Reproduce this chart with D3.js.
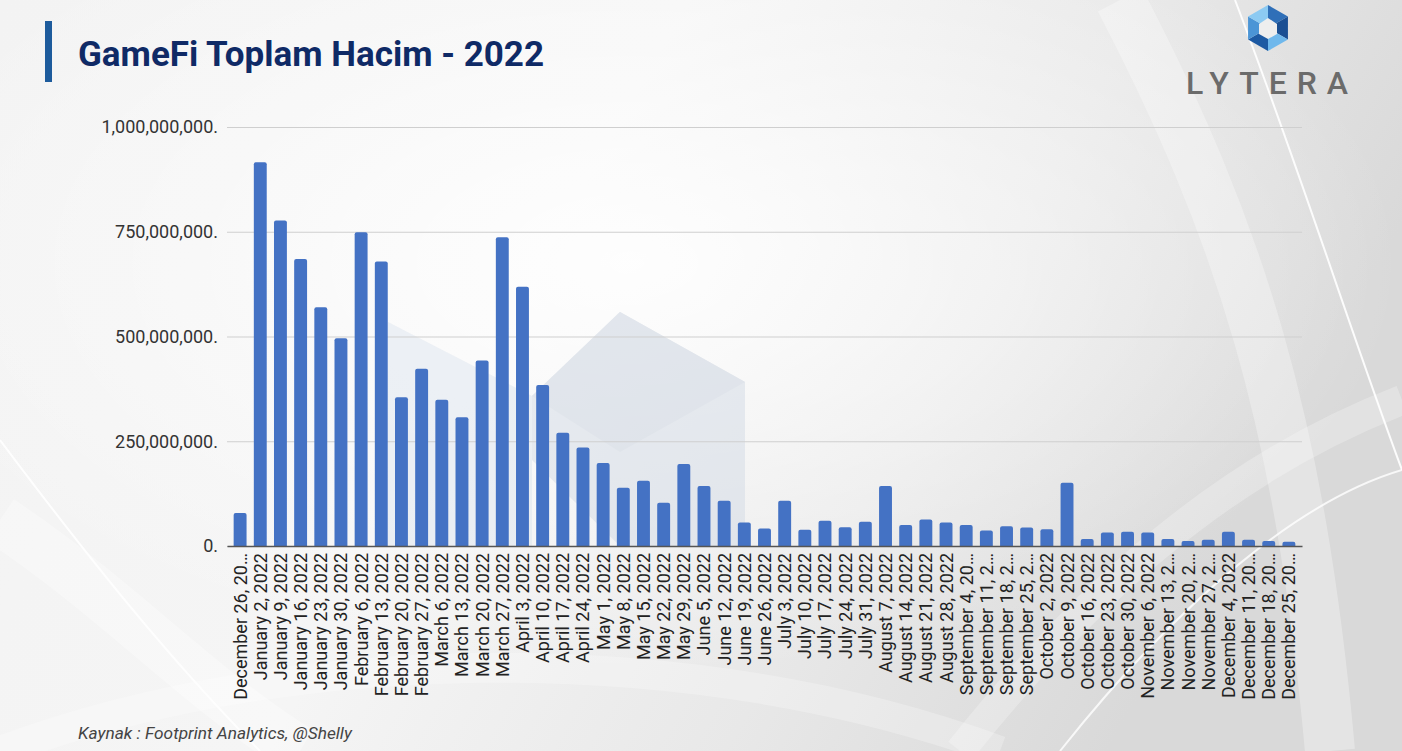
<!DOCTYPE html>
<html>
<head>
<meta charset="utf-8">
<script src="https://cdn.jsdelivr.net/npm/d3@7"></script>
<style>
  html, body { margin: 0; padding: 0; background: #f2f2f2; }
  svg { display: block; font-family: Roboto, "Noto Sans", sans-serif; }
</style>
</head>
<body>
<svg id="chart"></svg>
<script>
// weekly GameFi volume, 2022 (in millions USD)
var weeks = ["December 26, 2021", "January 2, 2022", "January 9, 2022", "January 16, 2022", "January 23, 2022",
    "January 30, 2022", "February 6, 2022", "February 13, 2022", "February 20, 2022", "February 27, 2022",
    "March 6, 2022", "March 13, 2022", "March 20, 2022", "March 27, 2022", "April 3, 2022", "April 10, 2022",
    "April 17, 2022", "April 24, 2022", "May 1, 2022", "May 8, 2022", "May 15, 2022", "May 22, 2022",
    "May 29, 2022", "June 5, 2022", "June 12, 2022", "June 19, 2022", "June 26, 2022", "July 3, 2022",
    "July 10, 2022", "July 17, 2022", "July 24, 2022", "July 31, 2022", "August 7, 2022", "August 14, 2022",
    "August 21, 2022", "August 28, 2022", "September 4, 2022", "September 11, 2022", "September 18, 2022",
    "September 25, 2022", "October 2, 2022", "October 9, 2022", "October 16, 2022", "October 23, 2022",
    "October 30, 2022", "November 6, 2022", "November 13, 2022", "November 20, 2022", "November 27, 2022",
    "December 4, 2022", "December 11, 2022", "December 18, 2022", "December 25, 2022"];

var tickLabels = ["December 26, 20…", "January 2, 2022", "January 9, 2022", "January 16, 2022", "January 23, 2022",
    "January 30, 2022", "February 6, 2022", "February 13, 2022", "February 20, 2022", "February 27, 2022",
    "March 6, 2022", "March 13, 2022", "March 20, 2022", "March 27, 2022", "April 3, 2022", "April 10, 2022",
    "April 17, 2022", "April 24, 2022", "May 1, 2022", "May 8, 2022", "May 15, 2022", "May 22, 2022",
    "May 29, 2022", "June 5, 2022", "June 12, 2022", "June 19, 2022", "June 26, 2022", "July 3, 2022",
    "July 10, 2022", "July 17, 2022", "July 24, 2022", "July 31, 2022", "August 7, 2022", "August 14, 2022",
    "August 21, 2022", "August 28, 2022", "September 4, 20…", "September 11, 2…", "September 18, 2…",
    "September 25, 2…", "October 2, 2022", "October 9, 2022", "October 16, 2022", "October 23, 2022",
    "October 30, 2022", "November 6, 2022", "November 13, 2…", "November 20, 2…", "November 27, 2…",
    "December 4, 2022", "December 11, 20…", "December 18, 20…", "December 25, 20…"];

var volumeM = [79, 916, 777, 685, 570, 496, 749, 679, 355, 423, 349, 307, 443, 737, 619, 384, 270, 235,
    198, 139, 156, 103, 196, 143, 108, 56, 42, 108, 39, 60, 45, 58, 143, 50, 63, 56, 50, 37, 47, 44, 40,
    151, 17, 32, 34, 32, 17, 12, 15, 34, 15, 12, 10];

var yTicks = [0, 250000000, 500000000, 750000000, 1000000000];

var title = "GameFi Toplam Hacim - 2022";
var source = "Kaynak : Footprint Analytics, @Shelly";

var width = 1402,
    height = 751;

var data = weeks.map((w, i) => ({ week: w, label: tickLabels[i], value: volumeM[i] * 1e6 }));

var svg = d3.select("#chart")
    .attr("width", width)
    .attr("height", height);

// ---- background: grey slide with soft white swooshes
var defs = svg.append("defs");
var bg = defs.append("linearGradient").attr("id", "bg").attr("x1", 0).attr("y1", 0).attr("x2", 1).attr("y2", 0.3);
bg.append("stop").attr("offset", "0%").attr("stop-color", "#f3f3f3");
bg.append("stop").attr("offset", "45%").attr("stop-color", "#f5f5f5");
bg.append("stop").attr("offset", "75%").attr("stop-color", "#e8e8e8");
bg.append("stop").attr("offset", "100%").attr("stop-color", "#d9d9d9");

var glow = defs.append("radialGradient").attr("id", "glow").attr("cx", 0.45).attr("cy", 0.35).attr("r", 0.55);
glow.append("stop").attr("offset", "0%").attr("stop-color", "#ffffff").attr("stop-opacity", 0.9);
glow.append("stop").attr("offset", "100%").attr("stop-color", "#ffffff").attr("stop-opacity", 0);

svg.append("rect").attr("width", width).attr("height", height).attr("fill", "url(#bg)");
svg.append("rect").attr("width", width).attr("height", height).attr("fill", "url(#glow)");

var swoosh = svg.append("g").attr("fill", "none").attr("stroke", "#ffffff");
swoosh.append("path").attr("d", "M1235,0 C1300,170 1350,330 1402,470").attr("stroke-width", 2).attr("opacity", 0.9);
swoosh.append("path").attr("d", "M1120,0 C1240,230 1300,420 1330,751").attr("stroke-width", 50).attr("opacity", 0.3);
swoosh.append("path").attr("d", "M960,751 C1080,600 1220,470 1402,400").attr("stroke-width", 30).attr("opacity", 0.25);
swoosh.append("path").attr("d", "M1060,751 C1180,600 1300,500 1402,470").attr("stroke-width", 2).attr("opacity", 0.8);
swoosh.append("path").attr("d", "M0,440 C90,560 170,660 260,751").attr("stroke-width", 2).attr("opacity", 0.9);
swoosh.append("path").attr("d", "M0,520 C120,600 200,690 300,751").attr("stroke-width", 50).attr("opacity", 0.3);
swoosh.append("path").attr("d", "M0,751 C300,640 700,640 1000,751").attr("stroke-width", 30).attr("opacity", 0.25);

// faded logo watermark behind the bars
var mark = svg.append("g").attr("opacity", 0.5);
mark.append("polygon").attr("points", "388,322 532,396 532,546 388,546").attr("fill", "#dde6ef");
mark.append("polygon").attr("points", "532,396 620,312 745,382 745,546 620,546 532,460").attr("fill", "#d3dbe6");
mark.append("polygon").attr("points", "620,312 745,382 620,452 532,396").attr("fill", "#c9d2df");

// ---- title block
svg.append("rect").attr("x", 45).attr("y", 21).attr("width", 7).attr("height", 61).attr("fill", "#1d5b9c");
svg.append("text")
    .attr("x", 78).attr("y", 66)
    .attr("font-size", 35).attr("font-weight", 700)
    .attr("fill", "#0f2a66")
    .text(title);

// ---- Lytera logo
var logo = svg.append("g").attr("transform", "translate(1268,28)");
var hexR = 23;
var shades = ["#2f6fb8", "#1b4f93", "#6fb8ec", "#1d5aa3", "#4b95d6", "#8ccaf2"];
d3.range(6).forEach(i => {
    var a0 = (i * 60 - 90) * Math.PI / 180,
        a1 = ((i + 1) * 60 - 90) * Math.PI / 180;
    logo.append("polygon")
        .attr("points", [[0, 0], [hexR * Math.cos(a0), hexR * Math.sin(a0)], [hexR * Math.cos(a1), hexR * Math.sin(a1)]].map(p => p.join(",")).join(" "))
        .attr("fill", shades[i]);
});
logo.append("polygon").attr("points", "0,-10 9,-4 9,6 0,11 -9,6 -9,-4").attr("fill", "#eeeeee");
svg.append("text")
    .attr("x", 1186).attr("y", 94)
    .attr("font-size", 32).attr("font-weight", 500)
    .attr("letter-spacing", 10)
    .attr("fill", "#6b6b6b")
    .text("LYTERA");

// ---- scales
var x = d3.scaleBand()
    .domain(data.map(d => d.week))
    .range([227, 1302])
    .paddingInner(0.36)
    .paddingOuter(0.33);

var y = d3.scaleLinear()
    .domain([0, 1000000000])
    .range([546, 127]);

// gridlines + y labels
var yAxis = svg.append("g")
    .attr("transform", "translate(227,0)")
    .call(d3.axisLeft(y)
        .tickValues(yTicks)
        .tickSize(-(1302 - 227))
        .tickPadding(9)
        .tickFormat(d => d3.format(",")(d) + "."));
yAxis.select(".domain").remove();
yAxis.selectAll(".tick line").attr("stroke", "#cfcfcf").attr("stroke-width", 1);
yAxis.selectAll(".tick text")
    .attr("font-size", 18)
    .attr("font-family", "Roboto, sans-serif")
    .attr("fill", "#333");

// bars
svg.append("g")
    .selectAll("rect")
    .data(data)
    .enter()
    .append("path")
    .attr("fill", "#4472c4")
    .attr("d", d => {
        var x0 = x(d.week), w = x.bandwidth(), y0 = y(d.value), b = y(0), r = 2;
        return "M" + x0 + "," + b + "V" + (y0 + r) + "Q" + x0 + "," + y0 + " " + (x0 + r) + "," + y0 +
            "H" + (x0 + w - r) + "Q" + (x0 + w) + "," + y0 + " " + (x0 + w) + "," + (y0 + r) + "V" + b + "Z";
    });

// x axis with rotated labels
var xAxis = svg.append("g")
    .attr("transform", "translate(0,546)")
    .call(d3.axisBottom(x)
        .tickSize(0)
        .tickFormat((d, i) => tickLabels[i]));
xAxis.select(".domain").attr("stroke", "#555").attr("stroke-width", 1.5);
xAxis.selectAll(".tick text")
    .attr("transform", "rotate(-90)")
    .attr("x", -7)
    .attr("y", 0)
    .attr("dy", "0.36em")
    .attr("text-anchor", "end")
    .attr("font-size", 18)
    .attr("font-family", "Roboto, sans-serif")
    .attr("fill", "#222");

// source note
svg.append("text")
    .attr("x", 78).attr("y", 739)
    .attr("font-size", 17.3).attr("font-style", "italic")
    .attr("fill", "#444")
    .text(source);
</script>
</body>
</html>
